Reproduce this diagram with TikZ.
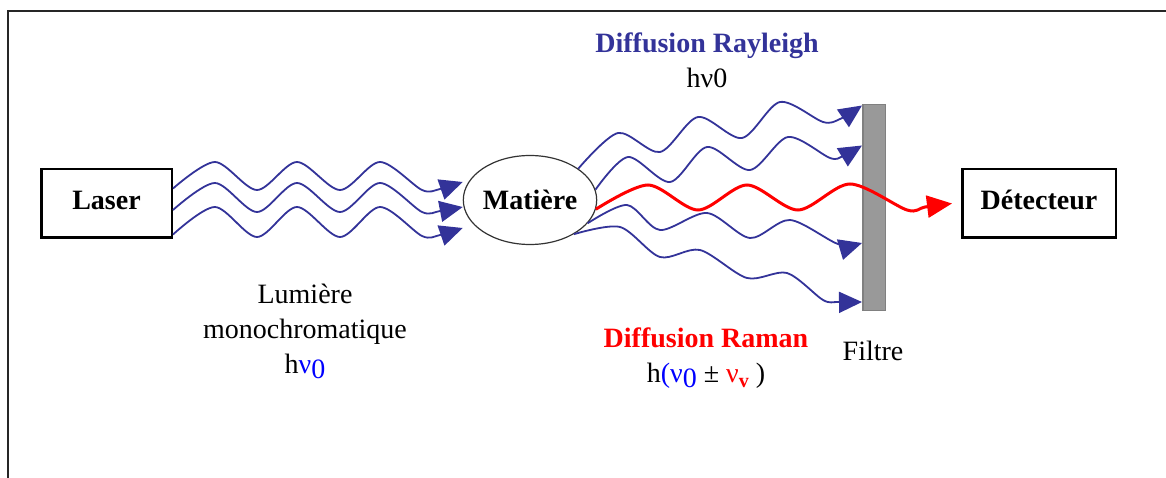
\documentclass[tikz,border=0pt]{standalone}
\usepackage{fontspec}
\setmainfont{Liberation Serif}
\usetikzlibrary{positioning,shapes.geometric,arrows.meta}
\definecolor{ondebleu}{HTML}{333399}
\definecolor{filtregris}{HTML}{999999}
\tikzset{
  boite/.style={draw,line width=2.5pt,minimum height=68.5pt,text height=19pt,text depth=7pt,font=\fontsize{28}{34}\selectfont\bfseries},
  onde/.style={ondebleu,line width=1.8pt,-{Triangle[length=23pt,width=21pt]}},
  raman/.style={red,line width=3pt,-{Triangle[length=25pt,width=22pt]}},
  texte/.style={font=\fontsize{28}{35}\selectfont,align=center,inner sep=0pt}
}

\begin{document}
\begin{tikzpicture}[x=1pt,y=-1pt]
\useasboundingbox (0,0) rectangle (1166,478);
\draw[line width=1.6pt,black!85] (8,478) -- (8,11) -- (1166,11);

\node[boite,minimum width=130.5pt] (laser) at (106.5,203.5) {Laser};
\node[draw=black!80,line width=1.2pt,ellipse,minimum width=133pt,minimum height=89pt,inner sep=0pt,
  font=\fontsize{28}{34}\selectfont\bfseries] (matiere) at (530,200) {Matière};
\node[boite,minimum width=153.5pt] (detecteur) at (1039,203.5) {Détecteur};
\node[draw=black!50,fill=filtregris,line width=1.5pt,minimum width=22.5pt,minimum height=205.5pt,inner sep=0pt] (filtre) at (874,207.5) {};

% lumiere incidente
\draw[onde] plot[smooth] coordinates {([yshift=15pt]laser.east) (215,162) (257,190) (297,162) (340,190) (380,162) (422,190) (440,189) ([yshift=18pt]matiere.west)};
\draw[onde] plot[smooth] coordinates {([yshift=-6.5pt]laser.east) (215,183) (257,212) (297,183) (340,212) (380,183) (422,212) (440,211) ([yshift=-7pt]matiere.west)};
\draw[onde] plot[smooth] coordinates {([yshift=-31pt]laser.east) (215,207) (257,237) (297,207) (340,237) (380,207) (422,236) (440,235) ([yshift=-28pt]matiere.west)};

% diffusion Rayleigh
\draw[onde] plot[smooth] coordinates {(matiere.33) (618,133) (660,152) (698,117) (742,138) (780,102) (823,122) (840,119) ([yshift=102pt]filtre.west)};
\draw[onde] plot[smooth] coordinates {(matiere.9) (628,157) (670,182) (707,147) (750,170) (788,137) (830,158) (843,156) ([yshift=62pt]filtre.west)};
\draw[onde] plot[smooth] coordinates {(matiere.-22) (627,205) (660,230) (707,213) (750,238) (790,220) (838,244) ([yshift=-35.5pt]filtre.west)};
\draw[onde] plot[smooth] coordinates {(matiere.-38) (620,227) (660,257) (700,250) (747,278) (787,273) (823,300) (838,302) ([yshift=-94.5pt]filtre.west)};

% diffusion Raman
\draw[raman] plot[smooth] coordinates {(matiere.-8) (648,185) (698,210) (747,185) (798,210) (850,184) (907,210) (925,207) ([xshift=-9pt]detecteur.west)};

\node[texte,anchor=base] (rayleigh) at (707,88) {\textbf{\color{ondebleu}Diffusion Rayleigh}\\hν0};
\node[texte,anchor=base] (lumiere) at (305,373) {Lumière\\monochromatique\\h{\color{blue}ν\raisebox{-5pt}{0}}};
\node[texte,anchor=base] (ramanlabel) at (706,382) {\textbf{\color{red}Diffusion Raman}\\h{\color{blue}(ν\raisebox{-5pt}{0}} ± {\color{red}ν\raisebox{-5pt}{\fontsize{20}{20}\selectfont\bfseries v}}~)};
\node[texte,anchor=base] (filtrelabel) at (873,360) {Filtre};
\end{tikzpicture}
\end{document}
